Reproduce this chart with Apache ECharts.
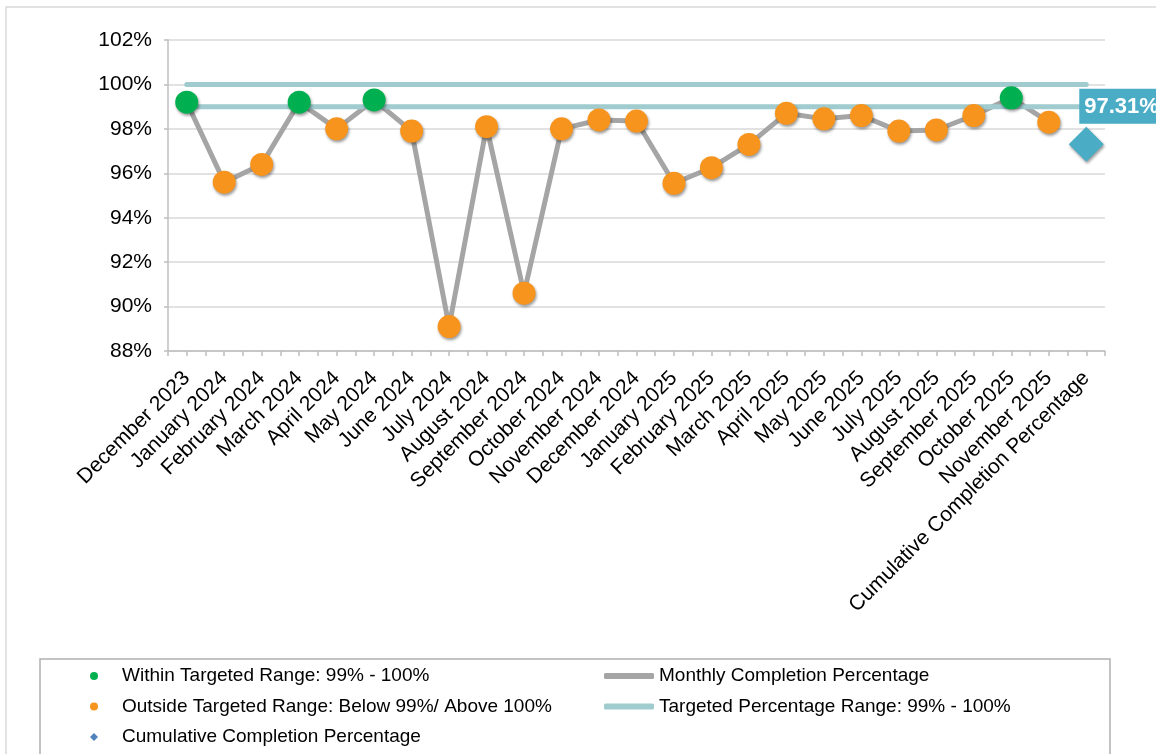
<!DOCTYPE html>
<html style="height: 100%">
<head>
    <meta charset="UTF-8" />
    <title>Completion Percentage</title>
    <script src="https://cdn.jsdelivr.net/npm/echarts@6/dist/echarts.min.js"></script>
</head>
<body style="margin:0;height:100%;background:#fff">
    <div id="main" style="width:1156px;height:754px;"></div>
    <script>
        // categories along the bottom
        var months = ['December 2023','January 2024','February 2024','March 2024','April 2024','May 2024',
            'June 2024','July 2024','August 2024','September 2024','October 2024','November 2024',
            'December 2024','January 2025','February 2025','March 2025','April 2025','May 2025',
            'June 2025','July 2025','August 2025','September 2025','October 2025','November 2025'];
        var cumulativeLabel = 'Cumulative Completion Percentage';
        // monthly completion (%)
        var monthly = [99.2, 95.6, 96.4, 99.2, 98.0, 99.3, 97.9, 89.1, 98.1, 90.6, 98.0, 98.4,
            98.35, 95.55, 96.25, 97.3, 98.7, 98.45, 98.6, 97.9, 97.95, 98.6, 99.4, 98.3];
        var cumulative = 97.31;
        var targetLow = 99;
        var targetHigh = 100;
        var yTicks = {min: 88, max: 102, step: 2};

        var categories = months.concat([cumulativeLabel]);
        var monthlyLine = monthly.concat(['-']);
        var inRange = monthly.map(function(v){ return (v >= targetLow && v <= targetHigh) ? v : '-'; }).concat(['-']);
        var outRange = monthly.map(function(v){ return (v >= targetLow && v <= targetHigh) ? '-' : v; }).concat(['-']);
        var cumData = months.map(function(){ return '-'; }).concat([cumulative]);
        var highLine = categories.map(function(){ return targetHigh; });
        var lowLine = categories.map(function(){ return targetLow; });

        var font = "'Liberation Sans', Arial, sans-serif";
        var nameIn = 'Within Targeted Range: 99% - 100%';
        var nameOut = 'Outside Targeted Range: Below 99%/ Above 100%';
        var nameMonthly = 'Monthly Completion Percentage';
        var nameTarget = 'Targeted Percentage Range: 99% - 100%';
        var green = '#00B050', orange = '#F7941D', blue = '#4BACC6', grey = '#A5A5A5', teal = '#A0CBCF';
        var markerShadow = {opacity: 1, shadowBlur: 3, shadowOffsetX: 1, shadowOffsetY: 2, shadowColor: 'rgba(0,0,0,0.4)'};

        var app = echarts.init(document.getElementById('main'));
        var option = {
            backgroundColor: '#fff',
            animation: false,
            textStyle: {fontFamily: font},
            grid: {left: 168, right: 51, top: 40, bottom: 403, containLabel: false},
            legend: [
                {
                    orient: 'vertical', left: 90, top: 666, height: 100, padding: 0, itemGap: 10.5,
                    itemWidth: 46, itemHeight: 8, selectedMode: false,
                    textStyle: {fontSize: 19, color: '#000', lineHeight: 20, fontFamily: font},
                    data: [
                        {name: nameIn, icon: 'circle', itemStyle: {color: green}},
                        {name: nameOut, icon: 'circle', itemStyle: {color: orange}},
                        {name: cumulativeLabel, icon: 'path://M0,-1L1,0L0,1L-1,0Z', itemStyle: {color: '#4F81BD'}}
                    ]
                },
                {
                    orient: 'vertical', left: 604, top: 666, height: 100, padding: 0, itemGap: 10.5,
                    itemWidth: 50, itemHeight: 6, selectedMode: false,
                    textStyle: {fontSize: 19, color: '#000', lineHeight: 20, fontFamily: font},
                    data: [
                        {name: nameMonthly, icon: 'roundRect', itemStyle: {color: grey}},
                        {name: nameTarget, icon: 'roundRect', itemStyle: {color: teal}}
                    ]
                }
            ],
            xAxis: [
                {
                    type: 'category', data: categories, boundaryGap: true,
                    axisLine: {lineStyle: {color: '#BFBFBF', width: 1.5}},
                    axisTick: {show: true, interval: 0, length: 5, lineStyle: {color: '#BFBFBF', width: 1.5}},
                    axisLabel: {interval: 0, rotate: 45, margin: 24, fontSize: 21, color: '#000', fontFamily: font},
                    splitLine: {show: false}
                },
                {
                    type: 'category', data: categories, position: 'bottom', boundaryGap: true,
                    axisLine: {show: false},
                    axisTick: {show: true, interval: 0, alignWithLabel: true, length: 5, lineStyle: {color: '#BFBFBF', width: 1.5}},
                    axisLabel: {show: false}
                }
            ],
            yAxis: {
                type: 'value', min: yTicks.min, max: yTicks.max, interval: yTicks.step,
                axisLine: {show: true, lineStyle: {color: '#BFBFBF', width: 1.5}},
                axisTick: {show: true, length: 4, lineStyle: {color: '#BFBFBF', width: 1.5}},
                axisLabel: {formatter: '{value}%', fontSize: 21, color: '#000', margin: 16, fontFamily: font},
                splitLine: {lineStyle: {color: '#D9D9D9', width: 1.5}}
            },
            series: [
                {
                    name: nameMonthly, type: 'line', data: monthlyLine, z: 2,
                    symbol: 'none', lineStyle: {color: grey, width: 5}, itemStyle: {color: grey}
                },
                {
                    name: nameTarget, type: 'line', data: highLine, z: 3,
                    symbol: 'none', lineStyle: {color: teal, width: 5, cap: 'round'}, itemStyle: {color: teal}
                },
                {
                    name: nameTarget, type: 'line', data: lowLine, z: 3,
                    symbol: 'none', lineStyle: {color: teal, width: 5, cap: 'round'}, itemStyle: {color: teal}
                },
                {
                    name: nameIn, type: 'scatter', data: inRange, z: 5,
                    symbol: 'circle', symbolSize: 23,
                    itemStyle: Object.assign({color: green}, markerShadow)
                },
                {
                    name: nameOut, type: 'scatter', data: outRange, z: 5,
                    symbol: 'circle', symbolSize: 23,
                    itemStyle: Object.assign({color: orange}, markerShadow)
                },
                {
                    name: cumulativeLabel, type: 'scatter', data: cumData, z: 6,
                    symbol: 'diamond', symbolSize: 35,
                    itemStyle: Object.assign({color: blue}, markerShadow),
                    label: {
                        show: true, position: [10.5, -38],
                        formatter: function(p){ return p.value.toFixed(2) + '%'; },
                        backgroundColor: blue, color: '#fff', fontWeight: 'bold', fontSize: 22,
                        fontFamily: font, padding: [7, 4, 6, 5]
                    }
                }
            ],
            graphic: [
                {type: 'rect', silent: true, z: -1, shape: {x: 6, y: 7, width: 1200, height: 800},
                    style: {fill: null, stroke: '#D9D9D9', lineWidth: 1.5}},
                {type: 'rect', silent: true, z: -1, shape: {x: 40, y: 659, width: 1070, height: 120},
                    style: {fill: null, stroke: '#B0B0B0', lineWidth: 1.5}}
            ]
        };
        app.setOption(option);
    </script>
</body>
</html>
